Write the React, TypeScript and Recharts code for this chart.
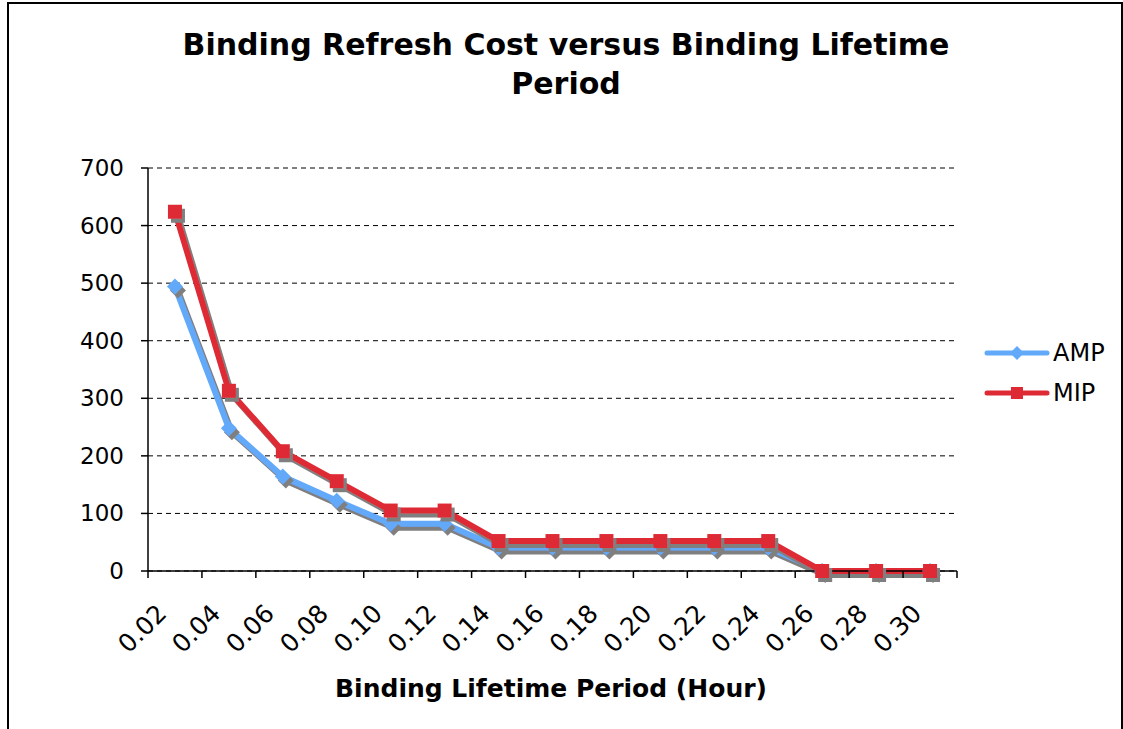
import React from 'react';
import { LineChart, Line, XAxis, YAxis, CartesianGrid } from 'recharts';

const periods = ['0.02', '0.04', '0.06', '0.08', '0.10', '0.12', '0.14', '0.16', '0.18', '0.20', '0.22', '0.24', '0.26', '0.28', '0.30'];
const ampCost = [494, 248, 164, 122, 82, 82, 41, 41, 41, 41, 41, 41, 0, 0, 0];
const mipCost = [624, 313, 208, 156, 105, 105, 52, 52, 52, 52, 52, 52, 0, 0, 0];
const costTicks = [0, 100, 200, 300, 400, 500, 600, 700];

const data = periods.map((p, i) => ({ period: p, AMP: ampCost[i], MIP: mipCost[i] }));

const W = 1123;
const H = 729;
const PLOT_LEFT = 148;
const PLOT_RIGHT = 957;
const BAND = (PLOT_RIGHT - PLOT_LEFT) / periods.length;
const AMP_COLOR = '#63a9fa';
const MIP_COLOR = '#de2a34';
const FONT = '"DejaVu Sans", Verdana, sans-serif';

const series = [
  { key: 'AMP', color: AMP_COLOR },
  { key: 'MIP', color: MIP_COLOR },
];

const AmpDot = (props: any) => {
  const { cx, cy } = props;
  if (cx == null || cy == null) return null;
  return (
    <path
      d={`M${cx},${cy - 8}L${cx + 8},${cy}L${cx},${cy + 8}L${cx - 8},${cy}Z`}
      fill={AMP_COLOR}
      filter="url(#dropShadow)"
    />
  );
};

const MipDot = (props: any) => {
  const { cx, cy } = props;
  if (cx == null || cy == null) return null;
  return <rect x={cx - 7} y={cy - 7} width={14} height={14} fill={MIP_COLOR} filter="url(#dropShadow)" />;
};

const YTick = (props: any) => {
  const { x, y, payload } = props;
  return (
    <text x={x} y={y} dy={8} textAnchor="end" fontSize={23} fontFamily={FONT} fill="#000">
      {payload.value}
    </text>
  );
};

const XTick = (props: any) => {
  const { x, y, payload, index } = props;
  const left = x - BAND / 2;
  const right = x + BAND / 2;
  return (
    <g>
      <line x1={left} y1={y} x2={left} y2={y + 7} stroke="#000" strokeWidth={1.5} />
      {index === periods.length - 1 && <line x1={right} y1={y} x2={right} y2={y + 7} stroke="#000" strokeWidth={1.5} />}
      <g transform={`translate(${x - 7},${y + 44}) rotate(-45)`}>
        <text x={0} y={0} textAnchor="end" fontSize={25} fontFamily={FONT} fill="#000">
          {payload.value}
        </text>
      </g>
    </g>
  );
};

const LegendBox = () => (
  <div style={{ position: 'absolute', left: 984, top: 333 }}>
    {series.map((s) => (
      <div key={s.key} style={{ display: 'flex', alignItems: 'center', height: 40 }}>
        <svg width={66} height={20}>
          <line x1={3} y1={10} x2={63} y2={10} stroke={s.color} strokeWidth={5} strokeLinecap="round" />
          {s.key === 'AMP' ? (
            <path d="M33,3L40,10L33,17L26,10Z" fill={s.color} />
          ) : (
            <rect x={27} y={4} width={12} height={12} fill={s.color} />
          )}
        </svg>
        <span style={{ fontFamily: FONT, fontSize: 24, color: '#000', marginLeft: 3 }}>{s.key}</span>
      </div>
    ))}
  </div>
);

export default function App() {
  return (
    <div style={{ position: 'absolute', left: 0, top: 0, width: W, height: H, overflow: 'hidden', background: '#fff' }}>
      <style>{`.recharts-line-curve{filter:url(#dropShadow);}`}</style>
      <svg width={0} height={0} style={{ position: 'absolute' }}>
        <defs>
          <filter id="dropShadow" filterUnits="userSpaceOnUse" x={0} y={0} width={W} height={H}>
            <feOffset in="SourceAlpha" dx={2.5} dy={3.5} result="off" />
            <feFlood floodColor="#7f7f7f" result="gray" />
            <feComposite in="gray" in2="off" operator="in" result="shadow" />
            <feMerge>
              <feMergeNode in="shadow" />
              <feMergeNode in="SourceGraphic" />
            </feMerge>
          </filter>
        </defs>
      </svg>
      <div
        style={{
          position: 'absolute',
          left: 7,
          top: 2,
          width: 1116,
          height: 760,
          boxSizing: 'border-box',
          border: '2px solid #000',
        }}
      />
      <div
        style={{
          position: 'absolute',
          left: 0,
          width: 1132,
          top: 25,
          textAlign: 'center',
          fontFamily: FONT,
          fontWeight: 'bold',
          fontSize: 30,
          lineHeight: '39px',
        }}
      >
        Binding Refresh Cost versus Binding Lifetime
        <br />
        Period
      </div>
      <div
        style={{
          position: 'absolute',
          left: 0,
          width: 1102,
          top: 673,
          textAlign: 'center',
          fontFamily: FONT,
          fontWeight: 'bold',
          fontSize: 25,
          lineHeight: '32px',
        }}
      >
        Binding Lifetime Period (Hour)
      </div>
      <div style={{ position: 'absolute', left: 0, top: 0 }}>
        <LineChart width={W} height={H} data={data} margin={{ top: 168, right: 166, left: 0, bottom: 68 }}>
          <CartesianGrid vertical={false} stroke="#000" strokeWidth={1} strokeDasharray="5 4" />
          <XAxis
            dataKey="period"
            type="category"
            height={90}
            interval={0}
            padding={{ left: BAND / 2, right: BAND / 2 }}
            tickSize={0}
            tickMargin={0}
            tickLine={false}
            axisLine={{ stroke: '#000', strokeWidth: 1.5 }}
            tick={<XTick />}
          />
          <XAxis
            xAxisId="top"
            dataKey="period"
            orientation="top"
            height={0}
            tick={false}
            tickLine={false}
            axisLine={{ stroke: '#8c8c8c', strokeWidth: 2.5 }}
          />
          <YAxis
            width={148}
            domain={[0, 700]}
            ticks={costTicks}
            interval={0}
            tickSize={7}
            tickMargin={17}
            tickLine={{ stroke: '#000', strokeWidth: 1.5 }}
            axisLine={{ stroke: '#000', strokeWidth: 1.5 }}
            tick={<YTick />}
          />
          <YAxis
            yAxisId="right"
            orientation="right"
            width={0}
            domain={[0, 700]}
            tick={false}
            tickLine={false}
            axisLine={{ stroke: '#8c8c8c', strokeWidth: 2.5 }}
          />
          <Line
            dataKey="AMP"
            name="AMP"
            stroke={AMP_COLOR}
            strokeWidth={6}
            dot={<AmpDot />}
            activeDot={false}
            isAnimationActive={false}
          />
          <Line
            dataKey="MIP"
            name="MIP"
            stroke={MIP_COLOR}
            strokeWidth={6}
            dot={<MipDot />}
            activeDot={false}
            isAnimationActive={false}
          />
        </LineChart>
      </div>
      <LegendBox />
    </div>
  );
}
